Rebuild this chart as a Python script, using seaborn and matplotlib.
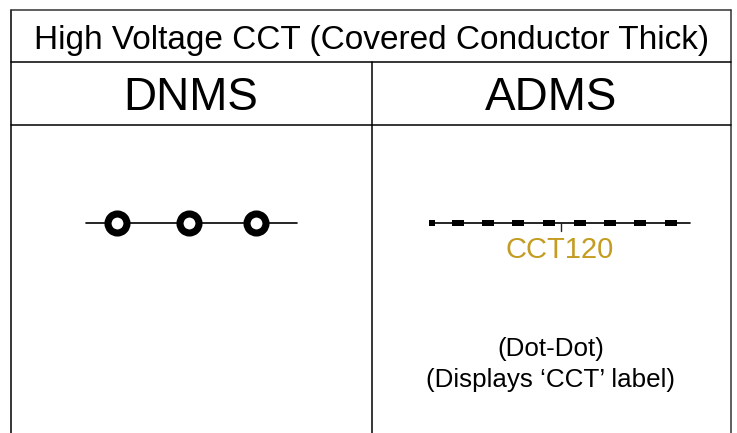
import matplotlib
matplotlib.use("Agg")
import matplotlib.pyplot as plt
import seaborn as sns
import pandas as pd

sns.set_theme(style="white")
plt.rcParams['font.family'] = ['Liberation Sans', 'DejaVu Sans']

# ---- content ----
title = "High Voltage CCT (Covered Conductor Thick)"
columns = ["DNMS", "ADMS"]
dnms_circle_x = [117, 189, 256]
adms_dash_x = [458, 488, 518, 549, 580, 610, 640, 671]
adms_end_dash_x = [432]
adms_label = "CCT120"
adms_notes = ["(Dot-Dot)", "(Displays \u2018CCT\u2019 label)"]

fig = plt.figure(figsize=(7.37, 4.33), dpi=100)
ax = fig.add_axes([0, 0, 1, 1])
ax.set_xlim(0, 737)
ax.set_ylim(433, 0)
ax.axis('off')

# ---- table grid ----
L, R, T = 11.5, 731, 10
ax.plot([L, L], [T, 433], color='black', lw=1.1)
ax.plot([R, R], [T, 433], color='#333333', lw=1.1)
ax.plot([L, R], [T, T], color='#333333', lw=1.1)
ax.plot([L, R], [61.5, 61.5], color='black', lw=1.1)
ax.plot([L, R], [125, 125], color='black', lw=1.1)
ax.plot([372, 372], [61.5, 433], color='black', lw=1.1)

# ---- texts ----
ax.text((L + R) / 2, 48.5, title, ha='center', va='baseline', fontsize=24, color='black')
ax.text(190.5, 109.5, columns[0], ha='center', va='baseline', fontsize=33, color='black')
ax.text(551.5, 109.5, columns[1], ha='center', va='baseline', fontsize=33, color='black')

# ---- DNMS symbol ----
dnms_line = pd.DataFrame({"x": [86, 297], "y": [223, 223]})
sns.lineplot(data=dnms_line, x="x", y="y", ax=ax, color='black', lw=1.2, zorder=2)
sns.scatterplot(x=dnms_circle_x, y=[223] * len(dnms_circle_x), ax=ax, marker='o',
                s=187, color='white', edgecolor='black', linewidth=5.1, zorder=3)

# ---- ADMS symbol ----
adms_line = pd.DataFrame({"x": [430, 690], "y": [222.7, 222.7]})
sns.lineplot(data=adms_line, x="x", y="y", ax=ax, color='black', lw=1.2, zorder=2)
rect = [(-1, -0.5), (1, -0.5), (1, 0.5), (-1, 0.5), (-1, -0.5)]
sns.scatterplot(x=adms_dash_x, y=[222.7] * len(adms_dash_x), ax=ax, marker=rect,
                s=75, color='black', edgecolor='none', linewidth=0, zorder=3)
square = [(-0.5, -0.5), (0.5, -0.5), (0.5, 0.5), (-0.5, 0.5), (-0.5, -0.5)]
sns.scatterplot(x=adms_end_dash_x, y=[222.7] * len(adms_end_dash_x), ax=ax, marker=square,
                s=19, color='black', edgecolor='none', linewidth=0, zorder=3)
ax.plot([561, 561], [222.7, 231], color='#222222', lw=1.0)
ax.text(560, 258, adms_label, ha='center', va='baseline', fontsize=21, color='#C49C22')
ax.text(551, 356, adms_notes[0], ha='center', va='baseline', fontsize=18.7, color='black')
ax.text(551, 387, adms_notes[1], ha='center', va='baseline', fontsize=18.7, color='black')

fig.savefig("out.png", dpi=100)
